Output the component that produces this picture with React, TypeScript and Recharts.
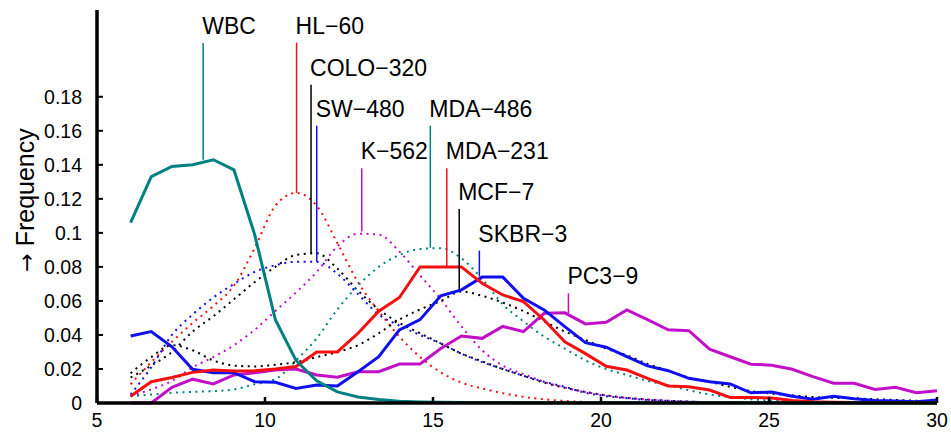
import React from 'react';
import { LineChart, Line, XAxis, YAxis, ReferenceLine } from 'recharts';

// cell size bins (x axis)
const sizes = [
  6.0, 6.615, 7.231, 7.846, 8.462, 9.077, 9.692, 10.308, 10.923, 11.538,
  12.154, 12.769, 13.385, 14.0, 14.615, 15.231, 15.846, 16.462, 17.077, 17.692,
  18.308, 18.923, 19.538, 20.154, 20.769, 21.385, 22.0, 22.615, 23.231, 23.846,
  24.462, 25.077, 25.692, 26.308, 26.923, 27.538, 28.154, 28.769, 29.385, 30.0,
];

// measured histograms (solid)
const wbc = [
  0.106, 0.133, 0.139, 0.14, 0.143, 0.137, 0.099, 0.049, 0.025, 0.013,
  0.0065, 0.0035, 0.002, 0.001, 0.0006, 0.0004, 0.0003, 0.0003, 0.0003, 0.0002,
  0.0002, 0.0002, 0.0002, 0.0002, 0.0001, 0.0001, 0.0001, 0.0001, 0.0001, 0.0001,
  0.0001, 0.0001, 0, 0, 0, 0, 0, 0, 0, 0,
];
const mda231 = [
  0.004, 0.0125, 0.015, 0.018, 0.0194, 0.0188, 0.019, 0.02, 0.0214, 0.03,
  0.03, 0.041, 0.054, 0.062, 0.08, 0.08, 0.08, 0.0704, 0.0635, 0.0596,
  0.0488, 0.036, 0.029, 0.0216, 0.0194, 0.0145, 0.01, 0.0096, 0.0076, 0.0033,
  0.0033, 0.003, 0.0015, 0.0008, 0.0005, 0.0003, 0.0002, 0.0002, 0.0001, 0.0001,
];
const skbr3 = [
  0.0394, 0.042, 0.033, 0.0198, 0.0178, 0.0178, 0.0125, 0.0122, 0.0086, 0.0106,
  0.01, 0.0184, 0.0272, 0.043, 0.049, 0.063, 0.0665, 0.074, 0.074, 0.0616,
  0.0547, 0.0449, 0.0355, 0.0328, 0.0272, 0.0218, 0.019, 0.0145, 0.0125, 0.0112,
  0.006, 0.0064, 0.004, 0.0022, 0.004, 0.0025, 0.0014, 0.0012, 0.0008, 0.0018,
];
const pc39 = [
  0, 0, 0.0092, 0.014, 0.0112, 0.0165, 0.0178, 0.0194, 0.02, 0.0165,
  0.0151, 0.0184, 0.0184, 0.0229, 0.0229, 0.032, 0.0394, 0.038, 0.045, 0.042,
  0.0527, 0.053, 0.0465, 0.0475, 0.0547, 0.049, 0.043, 0.0425, 0.0316, 0.0272,
  0.0228, 0.0222, 0.0198, 0.0155, 0.0116, 0.0116, 0.008, 0.0092, 0.006, 0.0072,
];

// fitted distributions (dotted)
const hl60 = [
  0.011, 0.024, 0.036, 0.047, 0.057, 0.069, 0.091, 0.116, 0.1235, 0.116,
  0.094, 0.071, 0.054, 0.039, 0.027, 0.018, 0.012, 0.0085, 0.0058, 0.0036,
  0.0022, 0.0012, 0.0006, 0.0003, 0.0002, 0.0001, 0.0001, 0.0001, 0, 0,
  0, 0, 0, 0, 0, 0, 0, 0, 0, 0,
];
const colo320 = [
  0.015, 0.022, 0.03, 0.042, 0.051, 0.061, 0.071, 0.08, 0.087, 0.088,
  0.079, 0.066, 0.055, 0.047, 0.041, 0.035, 0.029, 0.0245, 0.02, 0.016,
  0.012, 0.009, 0.0065, 0.0045, 0.003, 0.002, 0.0013, 0.0008, 0.0005, 0.0003,
  0.0002, 0.0002, 0.0001, 0.0001, 0.0001, 0, 0, 0, 0, 0,
];
const sw480 = [
  0.005, 0.021, 0.04, 0.052, 0.062, 0.07, 0.077, 0.081, 0.083, 0.083,
  0.076, 0.064, 0.052, 0.0455, 0.04, 0.035, 0.029, 0.024, 0.02, 0.016,
  0.0125, 0.0095, 0.006, 0.004, 0.0028, 0.0018, 0.0012, 0.0008, 0.0005, 0.0003,
  0.0002, 0.0002, 0.0001, 0.0001, 0.0001, 0, 0, 0, 0, 0,
];
const k562 = [
  0.004, 0.008, 0.013, 0.021, 0.027, 0.034, 0.043, 0.054, 0.065, 0.077,
  0.092, 0.0995, 0.099, 0.089, 0.075, 0.061, 0.045, 0.031, 0.022, 0.017,
  0.0125, 0.009, 0.0065, 0.0045, 0.003, 0.002, 0.0013, 0.0008, 0.0005, 0.0003,
  0.0002, 0.0002, 0.0001, 0.0001, 0.0001, 0, 0, 0, 0, 0,
];
const mda486 = [
  0.004, 0.005, 0.006, 0.0065, 0.007, 0.008, 0.011, 0.014, 0.025, 0.038,
  0.055, 0.069, 0.08, 0.087, 0.0905, 0.091, 0.085, 0.073, 0.058, 0.048,
  0.039, 0.032, 0.025, 0.02, 0.0165, 0.013, 0.0105, 0.0075, 0.005, 0.0035,
  0.0022, 0.0014, 0.0009, 0.0006, 0.0004, 0.0003, 0.0002, 0.0002, 0.0001, 0.0001,
];
const mcf7 = [
  0.0175, 0.027, 0.034, 0.031, 0.025, 0.022, 0.0215, 0.0225, 0.024, 0.027,
  0.03, 0.034, 0.041, 0.049, 0.055, 0.06, 0.0655, 0.063, 0.059, 0.054,
  0.048, 0.042, 0.037, 0.032, 0.028, 0.023, 0.019, 0.015, 0.0125, 0.0095,
  0.007, 0.0055, 0.0045, 0.0035, 0.003, 0.0028, 0.0022, 0.0018, 0.0013, 0.001,
];

const xTicks = [5, 10, 15, 20, 25, 30];
const yTicks = [0, 0.02, 0.04, 0.06, 0.08, 0.1, 0.12, 0.14, 0.16, 0.18];

// leader labels: name, x position, curve peak, top of leader line
const labelNames = ['WBC', 'HL−60', 'COLO−320', 'SW−480', 'MDA−486', 'K−562', 'MDA−231', 'MCF−7', 'SKBR−3', 'PC3−9'];
const labelX = [8.16, 10.94, 11.37, 11.54, 14.92, 12.88, 15.41, 15.78, 16.38, 19.03];
const labelPeak = [0.143, 0.1235, 0.0882, 0.0831, 0.0912, 0.1008, 0.0802, 0.0665, 0.0743, 0.0527];
const labelTop = [0.2116, 0.2118, 0.187, 0.163, 0.163, 0.138, 0.138, 0.114, 0.0896, 0.0645];

const TEAL = '#008080';
const RED = '#f41010';
const BLUE = '#1010ee';
const MAGENTA = '#c010c8';
const BLACK = '#000';

const labelColors = [TEAL, RED, BLACK, BLUE, TEAL, MAGENTA, RED, BLACK, BLUE, MAGENTA];

const data = sizes.map((x, i) => ({
  x,
  wbc: wbc[i],
  mda231: mda231[i],
  skbr3: skbr3[i],
  pc39: pc39[i],
  hl60: hl60[i],
  colo320: colo320[i],
  sw480: sw480[i],
  k562: k562[i],
  mda486: mda486[i],
  mcf7: mcf7[i],
}));

const dottedSeries = [
  { key: 'hl60', color: RED },
  { key: 'colo320', color: BLACK },
  { key: 'sw480', color: BLUE },
  { key: 'k562', color: MAGENTA },
  { key: 'mda486', color: TEAL },
  { key: 'mcf7', color: BLACK },
];
const solidSeries = [
  { key: 'pc39', color: MAGENTA },
  { key: 'skbr3', color: BLUE },
  { key: 'mda231', color: RED },
  { key: 'wbc', color: TEAL },
];

const FONT = '"Liberation Sans", Arial, Helvetica, sans-serif';

const fmtY = (v: number) => (v === 0 ? '0' : String(Number(v.toFixed(2))));

const YTick = (props: any) => {
  const { x, y, payload } = props;
  return (
    <g>
      <text x={x} y={y} dy="0.36em" textAnchor="end" fontSize={19.5} fontFamily={FONT} fill="#000">
        {fmtY(payload.value)}
      </text>
      <line x1={x + 15} x2={x + 21} y1={y} y2={y} stroke="#000" strokeWidth={2} />
    </g>
  );
};

const XTick = (props: any) => {
  const { x, y, payload } = props;
  return (
    <g>
      <text x={x} y={y} dy="0.71em" textAnchor="middle" fontSize={19.5} fontFamily={FONT} fill="#000">
        {payload.value}
      </text>
      <line x1={x} x2={x} y1={y - 10} y2={y - 16} stroke="#000" strokeWidth={2.5} />
    </g>
  );
};

const LeaderLabel = (props: any) => {
  const { viewBox, text } = props;
  return (
    <text x={viewBox.x - 1} y={viewBox.y - 9} fontSize={23} fontFamily={FONT} fill="#000">
      {text}
    </text>
  );
};

export default function App() {
  return (
    <div style={{ position: 'absolute', left: 0, top: 0, width: 951, height: 434, background: '#fff' }}>
      <LineChart width={951} height={434} data={data} margin={{ top: 10, right: 14, bottom: 1, left: 37 }}>
        <XAxis
          dataKey="x"
          type="number"
          domain={[5, 30]}
          ticks={xTicks}
          interval={0}
          tickSize={0}
          tickMargin={10}
          height={30}
          axisLine={{ stroke: '#000', strokeWidth: 3.5 }}
          tickLine={false}
          tick={<XTick />}
        />
        <YAxis
          type="number"
          domain={[0, 0.231]}
          ticks={yTicks}
          interval={0}
          tickSize={0}
          tickMargin={15}
          width={60}
          axisLine={{ stroke: '#000', strokeWidth: 3.5 }}
          tickLine={false}
          tick={<YTick />}
        />
        {dottedSeries.map((s) => (
          <Line
            key={s.key}
            dataKey={s.key}
            type="monotone"
            stroke={s.color}
            strokeWidth={2}
            strokeDasharray="2 4.5"
            dot={false}
            activeDot={false}
            isAnimationActive={false}
          />
        ))}
        {solidSeries.map((s) => (
          <Line
            key={s.key}
            dataKey={s.key}
            type="linear"
            stroke={s.color}
            strokeWidth={3}
            dot={false}
            activeDot={false}
            isAnimationActive={false}
          />
        ))}
        {labelNames.map((name, i) => (
          <ReferenceLine
            key={name}
            segment={[
              { x: labelX[i], y: labelPeak[i] },
              { x: labelX[i], y: labelTop[i] },
            ]}
            stroke={labelColors[i]}
            strokeWidth={1.5}
            label={<LeaderLabel text={name} />}
          />
        ))}
      </LineChart>
      <div
        style={{
          position: 'absolute',
          left: 25,
          top: 200,
          transform: 'translate(-50%, -50%) rotate(-90deg)',
          whiteSpace: 'nowrap',
          fontFamily: FONT,
          fontSize: 25,
          color: '#000',
        }}
      >
        <span style={{ fontFamily: '"DejaVu Sans", sans-serif', fontSize: 22 }}>→</span> Frequency
      </div>
    </div>
  );
}
